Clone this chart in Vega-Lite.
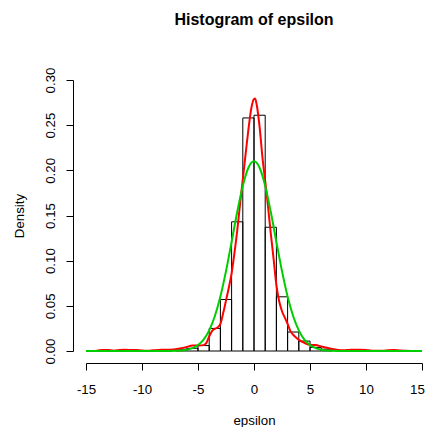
{
  "$schema": "https://vega.github.io/schema/vega-lite/v6.json",
  "width": 336,
  "height": 271,
  "autosize": {"type": "none"},
  "padding": {"left": 86, "top": 80, "right": 6, "bottom": 76},
  "background": "white",
  "config": {
    "view": {"stroke": null},
    "font": "Liberation Sans",
    "axis": {
      "domainColor": "black",
      "tickColor": "black",
      "tickSize": 7,
      "grid": false,
      "labelColor": "black",
      "labelFont": "Liberation Sans",
      "labelFontSize": 13.3,
      "titleFont": "Liberation Sans",
      "titleFontSize": 13.3,
      "titleFontWeight": "normal",
      "titleColor": "black"
    }
  },
  "title": {
    "text": "Histogram of epsilon",
    "font": "Liberation Sans",
    "fontSize": 16,
    "fontWeight": "bold",
    "color": "black",
    "anchor": "middle",
    "frame": "group",
    "baseline": "alphabetic",
    "offset": 26
  },
  "datasets": {
    "hist": [
      {"lo": -7, "hi": -6, "density": 0.002},
      {"lo": -6, "hi": -5, "density": 0.003},
      {"lo": -5, "hi": -4, "density": 0.006},
      {"lo": -4, "hi": -3, "density": 0.025},
      {"lo": -3, "hi": -2, "density": 0.057},
      {"lo": -2, "hi": -1, "density": 0.143},
      {"lo": -1, "hi": 0, "density": 0.258},
      {"lo": 0, "hi": 1, "density": 0.261},
      {"lo": 1, "hi": 2, "density": 0.137},
      {"lo": 2, "hi": 3, "density": 0.060},
      {"lo": 3, "hi": 4, "density": 0.021},
      {"lo": 4, "hi": 5, "density": 0.011},
      {"lo": 5, "hi": 6, "density": 0.004},
      {"lo": 6, "hi": 7, "density": 0.002}
    ],
    "kde": [
      {"x": -14.5, "density": 0.0001},
      {"x": -14, "density": 0.0004},
      {"x": -13.5, "density": 0.0012},
      {"x": -13, "density": 0.0010},
      {"x": -12.5, "density": 0.0004},
      {"x": -12, "density": 0.0010},
      {"x": -11.5, "density": 0.0013},
      {"x": -11, "density": 0.0012},
      {"x": -10.5, "density": 0.0011},
      {"x": -10, "density": 0.0005},
      {"x": -9.5, "density": 0.0003},
      {"x": -9, "density": 0.0008},
      {"x": -8.5, "density": 0.0012},
      {"x": -8, "density": 0.0013},
      {"x": -7.5, "density": 0.0015},
      {"x": -7, "density": 0.0020},
      {"x": -6.5, "density": 0.0030},
      {"x": -6, "density": 0.0045},
      {"x": -5.5, "density": 0.0060},
      {"x": -5, "density": 0.0060},
      {"x": -4.5, "density": 0.0065},
      {"x": -4.25, "density": 0.0090},
      {"x": -4, "density": 0.0160},
      {"x": -3.75, "density": 0.0220},
      {"x": -3.5, "density": 0.0245},
      {"x": -3.25, "density": 0.0260},
      {"x": -3, "density": 0.0300},
      {"x": -2.75, "density": 0.0420},
      {"x": -2.5, "density": 0.0560},
      {"x": -2.25, "density": 0.0700},
      {"x": -2, "density": 0.0860},
      {"x": -1.75, "density": 0.1080},
      {"x": -1.5, "density": 0.1330},
      {"x": -1.25, "density": 0.1620},
      {"x": -1, "density": 0.1900},
      {"x": -0.75, "density": 0.2180},
      {"x": -0.5, "density": 0.2450},
      {"x": -0.25, "density": 0.2680},
      {"x": 0, "density": 0.2790},
      {"x": 0.1, "density": 0.2795},
      {"x": 0.25, "density": 0.2720},
      {"x": 0.5, "density": 0.2480},
      {"x": 0.75, "density": 0.2150},
      {"x": 1, "density": 0.1880},
      {"x": 1.25, "density": 0.1600},
      {"x": 1.5, "density": 0.1300},
      {"x": 1.75, "density": 0.1020},
      {"x": 2, "density": 0.0730},
      {"x": 2.25, "density": 0.0550},
      {"x": 2.5, "density": 0.0440},
      {"x": 2.75, "density": 0.0370},
      {"x": 3, "density": 0.0300},
      {"x": 3.25, "density": 0.0220},
      {"x": 3.5, "density": 0.0180},
      {"x": 3.75, "density": 0.0150},
      {"x": 4, "density": 0.0125},
      {"x": 4.5, "density": 0.0090},
      {"x": 5, "density": 0.0068},
      {"x": 5.5, "density": 0.0066},
      {"x": 6, "density": 0.0050},
      {"x": 6.5, "density": 0.0035},
      {"x": 7, "density": 0.0022},
      {"x": 7.5, "density": 0.0012},
      {"x": 8, "density": 0.0008},
      {"x": 8.5, "density": 0.0012},
      {"x": 9, "density": 0.0015},
      {"x": 9.5, "density": 0.0015},
      {"x": 10, "density": 0.0012},
      {"x": 10.5, "density": 0.0004},
      {"x": 11, "density": 0.0002},
      {"x": 11.5, "density": 0.0002},
      {"x": 12, "density": 0.0008},
      {"x": 12.5, "density": 0.0011},
      {"x": 13, "density": 0.0006},
      {"x": 13.5, "density": 0.0002},
      {"x": 14, "density": 0.0001}
    ],
    "normal": [
      {"x": -15, "density": 0},
      {"x": -10, "density": 0},
      {"x": -8, "density": 0.00003},
      {"x": -7, "density": 0.00024},
      {"x": -6.5, "density": 0.0006},
      {"x": -6, "density": 0.00143},
      {"x": -5.5, "density": 0.00318},
      {"x": -5, "density": 0.00658},
      {"x": -4.5, "density": 0.0127},
      {"x": -4, "density": 0.0229},
      {"x": -3.5, "density": 0.0385},
      {"x": -3, "density": 0.0604},
      {"x": -2.5, "density": 0.0884},
      {"x": -2, "density": 0.1207},
      {"x": -1.5, "density": 0.1538},
      {"x": -1, "density": 0.1828},
      {"x": -0.5, "density": 0.2029},
      {"x": 0, "density": 0.2100},
      {"x": 0.5, "density": 0.2029},
      {"x": 1, "density": 0.1828},
      {"x": 1.5, "density": 0.1538},
      {"x": 2, "density": 0.1207},
      {"x": 2.5, "density": 0.0884},
      {"x": 3, "density": 0.0604},
      {"x": 3.5, "density": 0.0385},
      {"x": 4, "density": 0.0229},
      {"x": 4.5, "density": 0.0127},
      {"x": 5, "density": 0.00658},
      {"x": 5.5, "density": 0.00318},
      {"x": 6, "density": 0.00143},
      {"x": 6.5, "density": 0.0006},
      {"x": 7, "density": 0.00024},
      {"x": 8, "density": 0.00003},
      {"x": 10, "density": 0},
      {"x": 15, "density": 0}
    ]
  },
  "layer": [
    {
      "data": {"name": "hist"},
      "mark": {"type": "rect", "fill": "white", "fillOpacity": 0, "stroke": "black", "strokeWidth": 1},
      "encoding": {
        "x": {
          "field": "lo", "type": "quantitative",
          "scale": {"domain": [-15, 15], "nice": false, "zero": false},
          "axis": {
            "title": "epsilon",
            "values": [-15, -10, -5, 0, 5, 10, 15],
            "labelExpr": "replace(datum.label, '\u2212', '-')",
            "offset": 12,
            "labelBaseline": "alphabetic",
            "labelPadding": 23,
            "labelFlush": false,
            "labelOverlap": false,
            "labelOffset": {"condition": {"test": "datum.value == 15", "value": -5}, "value": 0},
            "titleX": 168,
            "titleY": 61,
            "titleBaseline": "alphabetic",
            "titleAlign": "center"
          }
        },
        "x2": {"field": "hi"},
        "y": {
          "field": "density", "type": "quantitative",
          "scale": {"domain": [0, 0.3], "nice": false},
          "axis": {
            "title": "Density",
            "values": [0, 0.05, 0.1, 0.15, 0.2, 0.25, 0.3],
            "format": ".2f",
            "offset": 13,
            "labelAngle": -90,
            "labelAlign": "center",
            "labelBaseline": "alphabetic",
            "labelPadding": 12,
            "labelFlush": false,
            "labelOverlap": false,
            "titleAngle": -90,
            "titleX": -50,
            "titleY": 135.5,
            "titleBaseline": "alphabetic",
            "titleAlign": "center"
          }
        },
        "y2": {"datum": 0}
      }
    },
    {
      "data": {"name": "kde"},
      "mark": {"type": "line", "color": "#FF0000", "strokeWidth": 2, "interpolate": "monotone"},
      "encoding": {
        "x": {"field": "x", "type": "quantitative"},
        "y": {"field": "density", "type": "quantitative"}
      }
    },
    {
      "data": {"name": "normal"},
      "mark": {"type": "line", "color": "#00CD00", "strokeWidth": 2, "interpolate": "monotone"},
      "encoding": {
        "x": {"field": "x", "type": "quantitative"},
        "y": {"field": "density", "type": "quantitative"}
      }
    }
  ]
}
